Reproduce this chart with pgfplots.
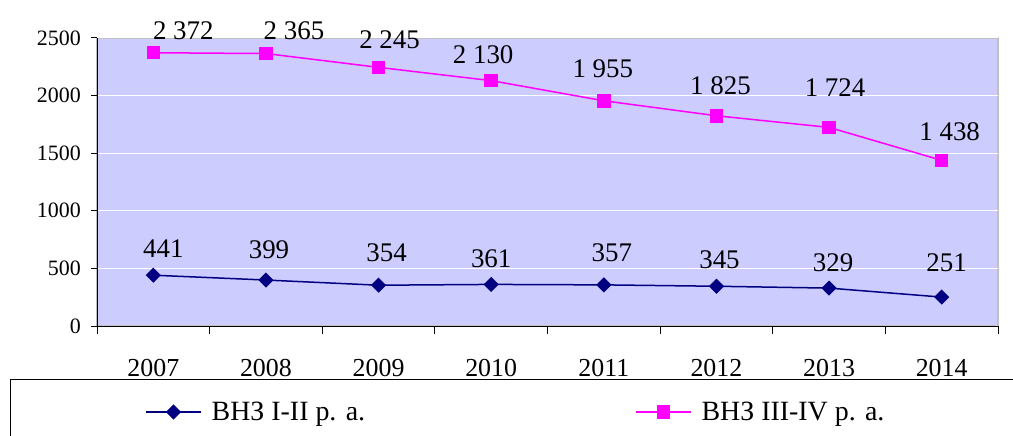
\documentclass[border=0pt]{standalone}
\usepackage{fontspec}
\setmainfont{Liberation Serif}
\usepackage{pgfplots}
\usepackage{pgfplotstable}
\pgfplotsset{compat=1.18}
\definecolor{bgp}{HTML}{CCCCFF}
\definecolor{navyc}{HTML}{000080}
\definecolor{magc}{HTML}{FF00FF}
\definecolor{brd}{HTML}{C0C0C0}

% series values, label positions (lx, ly) in data units, label text
\pgfplotstableread{
x y lx ly lab
0 441 0.089 675 441
1 399 1.027 659 399
2 354 2.071 632 354
3 361 3.000 587 361
4 357 4.071 635 357
5 345 5.027 579 345
6 329 6.036 546 329
7 251 7.044 546 251
}\lowdata

\pgfplotstableread{
x y lx ly lab
0 2372 0.266 2563 2~372
1 2365 1.249 2565 2~365
2 2245 2.098 2488 2~245
3 2130 2.929 2356 2~130
4 1955 3.991 2233 1~955
5 1825 5.036 2085 1~825
6 1724 6.053 2071 1~724
7 1438 7.071 1690 1~438
}\highdata

\begin{document}
\begin{tikzpicture}
\useasboundingbox (0,0) rectangle (1013bp,436bp);
\draw[black, line width=1bp] (10bp,56bp) rectangle (1040bp,-30bp);
\begin{axis}[
  at={(97bp,110bp)}, anchor=south west,
  scale only axis, width=901bp, height=288bp,
  xmin=-0.5, xmax=7.5, ymin=0, ymax=2500,
  axis background/.style={fill=bgp, draw=brd, line width=1.5bp},
  axis x line=bottom, axis y line=left,
  axis line style={-, black, line width=1bp},
  tick align=outside,
  xtick={0,1,2,3,4,5,6,7},
  xticklabels={2007,2008,2009,2010,2011,2012,2013,2014},
  major x tick style={draw=none},
  minor xtick={-0.5,0.5,1.5,2.5,3.5,4.5,5.5,6.5,7.5},
  minor x tick style={black, line width=1bp},
  minor tick length=8bp,
  ytick={0,500,1000,1500,2000,2500},
  yticklabels={0,500,1000,1500,2000,2500},
  major y tick style={black, line width=1bp},
  major tick length=6bp,
  ymajorgrids, major grid style={white, line width=1bp},
  xticklabel style={font=\fontsize{26}{28}\selectfont, inner sep=0pt, anchor=north, yshift=-27bp},
  yticklabel style={font=\fontsize{22}{24}\selectfont, inner sep=0pt, anchor=east, xshift=-10bp},
  legend columns=2,
  legend style={draw=none, fill=none, at={(axis description cs:0.0533,-0.2986)}, anchor=west, inner sep=0pt,
    font=\fontsize{28}{30}\selectfont,
    /tikz/every odd column/.append style={column sep=8bp},
    /tikz/every even column/.append style={column sep=268bp}},
  legend image code/.code={\draw[mark repeat=2,mark phase=2,#1] plot coordinates {(0bp,0bp) (27.5bp,0bp) (55bp,0bp)};},
  clip=false,
]
\addplot[navyc, line width=1.5bp, mark=square*, mark size=4.6bp, mark options={rotate=45, fill=navyc, draw=navyc}]
  table[x=x, y=y] {\lowdata};
\addlegendentry{ВНЗ I-II р. а.}
\addplot[magc, line width=1.5bp, mark=square*, mark size=6bp, mark options={fill=magc, draw=magc}]
  table[x=x, y=y] {\highdata};
\addlegendentry{ВНЗ III-IV р. а.}
% data labels
\addplot[draw=none, mark=none, forget plot, point meta=explicit symbolic,
  nodes near coords,
  every node near coord/.append style={font=\fontsize{27}{28}\selectfont, text=black, anchor=center, inner sep=0pt}]
  table[x=lx, y=ly, meta=lab] {\lowdata};
\addplot[draw=none, mark=none, forget plot, point meta=explicit symbolic,
  nodes near coords,
  every node near coord/.append style={font=\fontsize{27}{28}\selectfont, text=black, anchor=center, inner sep=0pt}]
  table[x=lx, y=ly, meta=lab] {\highdata};
\end{axis}
\end{tikzpicture}
\end{document}
